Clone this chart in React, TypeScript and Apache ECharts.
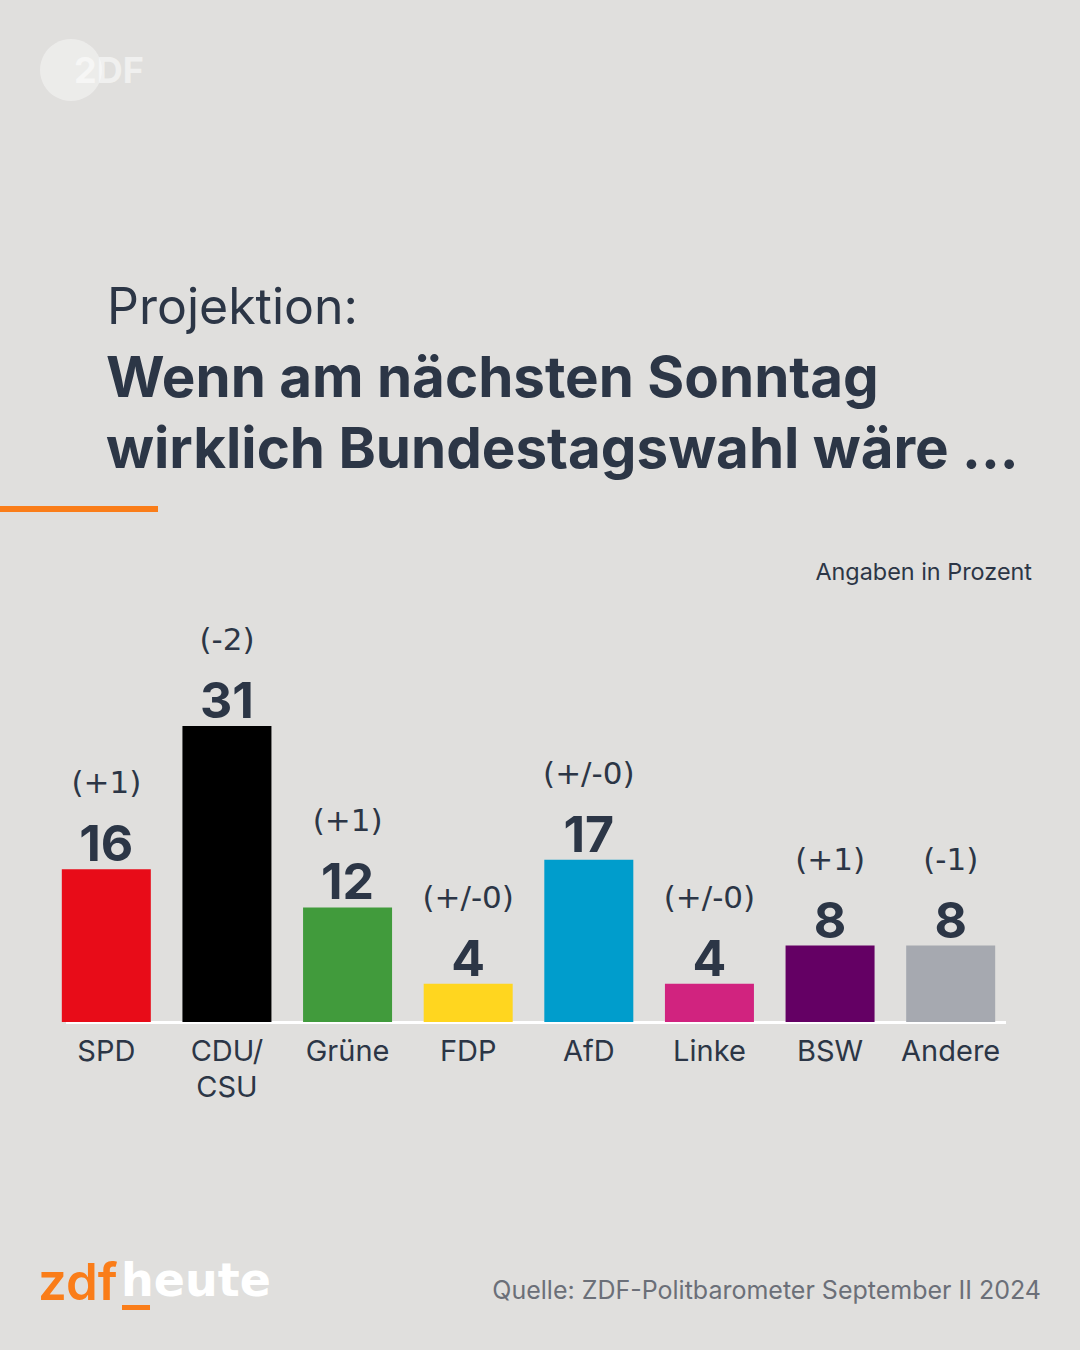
import React, { useEffect, useRef } from "react";
import * as echarts from "echarts";

const parties = ["SPD", "CDU/\nCSU", "Grüne", "FDP", "AfD", "Linke", "BSW", "Andere"];
const values = [16, 31, 12, 4, 17, 4, 8, 8];
const changes = ["(+1)", "(-2)", "(+1)", "(+/-0)", "(+/-0)", "(+/-0)", "(+1)", "(-1)"];
const colors = ["#e80c18", "#000000", "#419b3c", "#ffd61f", "#009dcc", "#d1237f", "#640064", "#a6a9b0"];

const TEXT = "#2c3646";
const FONT = "Inter, 'Noto Sans', sans-serif";
const FONT2 = "'DejaVu Sans', sans-serif";

export default function App() {
  const ref = useRef<HTMLDivElement>(null);
  useEffect(() => {
    document.body.style.margin = "0";
    const chart = echarts.init(ref.current!, null, { renderer: "svg" });
    chart.setOption({
      animation: false,
      backgroundColor: "#e0dfdd",
      grid: { left: 46, right: 69, top: 726, bottom: 328, containLabel: false },
      xAxis: {
        type: "category",
        data: parties,
        axisLine: { show: false },
        axisTick: { show: false },
        axisLabel: {
          color: TEXT,
          fontFamily: FONT,
          fontSize: 29,
          lineHeight: 36,
          margin: 10,
          interval: 0,
        },
      },
      yAxis: {
        type: "value",
        min: 0,
        max: 31,
        show: false,
        splitLine: { show: false },
      },
      series: [
        {
          type: "bar",
          barWidth: 89,
          data: values.map((v, i) => ({ value: v, itemStyle: { color: colors[i] } })),
          label: {
            show: true,
            position: "top",
            distance: 2,
            formatter: (p: any) => `{c|${changes[p.dataIndex]}}\n{v|${p.value}}`,
            rich: {
              c: { fontFamily: FONT2, fontSize: 31, color: TEXT, lineHeight: 74, align: "center" },
              v: { fontFamily: FONT, fontSize: 50, fontWeight: "bold", color: TEXT, lineHeight: 48, align: "center" },
            },
          },
        },
      ],
      graphic: [
        { type: "rect", shape: { x: 66, y: 1021, width: 940, height: 3 }, style: { fill: "#ffffff" } },
        { type: "circle", shape: { cx: 71, cy: 70, r: 31 }, style: { fill: "rgba(255,255,255,0.4)" } },
        {
          type: "text",
          style: {
            x: 74, y: 70, text: "2DF", font: `bold 36px ${FONT}`,
            fill: "rgba(255,255,255,0.55)", textVerticalAlign: "middle",
          },
        },
        {
          type: "text",
          style: {
            x: 107, y: 306, text: "Projektion:", font: `400 50px ${FONT}`,
            fill: TEXT, textVerticalAlign: "middle",
          },
        },
        {
          type: "text",
          style: {
            x: 106, y: 376, text: "Wenn am nächsten Sonntag", font: `bold 56.5px ${FONT}`,
            fill: TEXT, textVerticalAlign: "middle",
          },
        },
        {
          type: "text",
          style: {
            x: 106, y: 447, text: "wirklich Bundestagswahl wäre ...", font: `bold 56.5px ${FONT}`,
            fill: TEXT, textVerticalAlign: "middle",
          },
        },
        { type: "rect", shape: { x: 0, y: 506, width: 158, height: 6 }, style: { fill: "#fa7d19" } },
        {
          type: "text",
          style: {
            x: 1032, y: 571, text: "Angaben in Prozent", font: `400 23.4px ${FONT}`,
            fill: TEXT, textAlign: "right", textVerticalAlign: "middle",
          },
        },
        {
          type: "text",
          style: {
            x: 1041, y: 1290, text: "Quelle: ZDF-Politbarometer September II 2024", font: `400 25px ${FONT}`,
            fill: "#6b6f78", textAlign: "right", textVerticalAlign: "middle",
          },
        },
        {
          type: "text",
          style: {
            x: 38, y: 1281, text: "zdf", font: `600 51px ${FONT}`,
            fill: "#fa7d19", textVerticalAlign: "middle",
          },
        },
        {
          type: "text",
          style: {
            x: 121, y: 1280, text: "heute", font: `bold 46px ${FONT2}`,
            fill: "#ffffff", textVerticalAlign: "middle",
          },
        },
        { type: "rect", shape: { x: 122, y: 1305, width: 28, height: 5 }, style: { fill: "#fa7d19" } },
      ],
    });
    return () => chart.dispose();
  }, []);
  return <div ref={ref} style={{ width: 1080, height: 1350 }} />;
}
